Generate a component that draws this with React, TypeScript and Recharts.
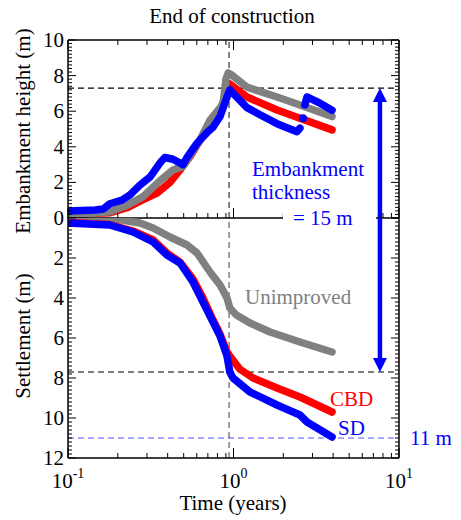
import React from "react";
import { ComposedChart, Line, XAxis, YAxis, ReferenceLine } from "recharts";

const W = 461;
const H = 520;
const FONT = "'Liberation Serif', Tinos, 'Times New Roman', 'DejaVu Serif', serif";

const RED = "#ff0000";
const BLUE = "#0000ff";
const GRAY = "#808080";

// [time (years), embankment height (m)]
const cbdHeight = [
  [0.1, 0.2], [0.18, 0.3], [0.23, 0.6], [0.28, 1.0], [0.345, 1.4], [0.413, 2.0],
  [0.475, 2.7], [0.55, 3.5], [0.63, 4.4], [0.72, 5.2], [0.83, 6.0], [0.9, 7.0],
  [0.94, 7.55], [1.206, 6.8], [1.832, 6.07], [2.52, 5.6], [3.94, 4.95],
];
const unimprovedHeight = [
  [0.1, 0.15], [0.179, 0.35], [0.227, 0.7], [0.284, 1.2], [0.36, 2.1], [0.431, 2.7],
  [0.495, 2.9], [0.628, 4.4], [0.721, 5.5], [0.865, 6.4], [0.9, 7.8], [0.93, 8.15],
  [0.97, 8.05], [1.206, 7.35], [1.832, 6.8], [2.52, 6.35], [3.94, 5.7],
];
const sdHeight = [
  [0.1, 0.4], [0.146, 0.45], [0.163, 0.5], [0.179, 0.8], [0.212, 1.0], [0.237, 1.3],
  [0.272, 1.85], [0.313, 2.3], [0.36, 3.1], [0.385, 3.4], [0.431, 3.3], [0.495, 3.0],
  [0.524, 3.4], [0.602, 4.2], [0.692, 4.8], [0.752, 5.1], [0.829, 5.7], [0.914, 6.8],
  [0.95, 7.2], [1.206, 6.2], [1.446, 5.8], [1.832, 5.3], [2.42, 4.85], [2.52, 5.05],
];
const sdHeightLate = [[2.7, 6.35], [2.78, 6.8], [3.33, 6.45], [3.94, 6.05]];
const sdHeightDot = [[2.63, 5.6]];

// [time (years), settlement (m)]
const unimprovedSettlement = [
  [0.1, 0], [0.179, 0], [0.272, 0.25], [0.327, 0.5], [0.413, 0.95], [0.524, 1.35],
  [0.602, 1.75], [0.721, 2.7], [0.829, 3.35], [0.914, 4.0], [0.95, 4.5], [1.04, 4.85],
  [1.258, 5.25], [1.662, 5.7], [2.52, 6.2], [3.94, 6.7],
];
const cbdSettlement = [
  [0.1, 0.22], [0.179, 0.33], [0.247, 0.65], [0.327, 1.1], [0.396, 1.75], [0.475, 2.2],
  [0.569, 3.05], [0.654, 4.0], [0.752, 5.1], [0.829, 5.8], [0.914, 6.7], [0.95, 6.9],
  [1.09, 7.55], [1.312, 8.0], [1.832, 8.5], [2.52, 8.95], [3.94, 9.7],
];
const sdSettlement = [
  [0.1, 0.25], [0.179, 0.35], [0.247, 0.7], [0.327, 1.2], [0.396, 1.85], [0.475, 2.25],
  [0.569, 3.2], [0.654, 4.2], [0.752, 5.2], [0.829, 5.9], [0.914, 6.9], [0.95, 7.7],
  [0.993, 8.0], [1.258, 8.7], [1.832, 9.35], [2.52, 9.85], [2.78, 10.2], [3.94, 10.95],
];

const timeTicks = [0.1, 0.2, 0.3, 0.4, 0.5, 0.6, 0.7, 0.8, 0.9, 1, 2, 3, 4, 5, 6, 7, 8, 9, 10];
const timeLabels = [0.1, 1, 10];
const endOfConstruction = 0.94;
const fillHeight = 7.3;
const fillSettlement = 7.7;
const sdFinal = 11;
const arrowTime = 7.67;

const depthTicks = (max: number) =>
  Array.from({ length: Math.round(max / 0.2) + 1 }, (_, i) => Math.round(i * 2) / 10);

const rows = (pairs: number[][]) => pairs.map(([t, v]) => ({ t, v }));

const TimeTick = (props: any) => {
  const { x, y, payload, dir, labelled } = props;
  const v = payload.value;
  const major = timeLabels.some((l) => Math.abs(l - v) < 1e-9);
  const len = major ? 10 : 5;
  return (
    <g>
      <line x1={x} x2={x} y1={y} y2={y + dir * len} stroke="#000" strokeWidth={1} />
      {labelled && major && (
        <text x={x} y={y + 30} textAnchor="middle" style={{ fontFamily: FONT }} fontSize={21} fill="#000">
          10
          <tspan dy={-10} fontSize={14}>
            {Math.round(Math.log10(v))}
          </tspan>
        </text>
      )}
    </g>
  );
};

const DepthTick = (props: any) => {
  const { x, y, payload, dir, labelled, skipZero } = props;
  const v = payload.value;
  const major = Math.abs(v / 2 - Math.round(v / 2)) < 1e-6;
  const len = major ? 8 : 4;
  return (
    <g>
      <line x1={x} x2={x + dir * len} y1={y} y2={y} stroke="#000" strokeWidth={1} />
      {labelled && major && !(skipZero && v === 0) && (
        <text x={x - 4} y={y + 7} textAnchor="end" style={{ fontFamily: FONT }} fontSize={21} fill="#000">
          {v}
        </text>
      )}
    </g>
  );
};

const arrowShape = (tipAtStart: boolean) => (props: any) => {
  const { x1, y1, y2 } = props;
  const tipY = tipAtStart ? y1 : y2;
  const tailY = tipAtStart ? y2 : y1;
  const s = Math.sign(tailY - tipY);
  const head = 13;
  const half = 7;
  return (
    <g>
      <line x1={x1} x2={x1} y1={tipY + s * head} y2={tailY} stroke={BLUE} strokeWidth={4.5} />
      <polygon
        points={`${x1},${tipY} ${x1 - half},${tipY + s * (head + 1)} ${x1 + half},${tipY + s * (head + 1)}`}
        fill={BLUE}
      />
    </g>
  );
};

const axisLine = { stroke: "#000", strokeWidth: 1.5 };

const timeAxis = (id: string, orientation: "top" | "bottom", dir: number, labelled = false) => (
  <XAxis
    xAxisId={id}
    orientation={orientation}
    dataKey="t"
    type="number"
    scale="log"
    domain={[0.1, 10]}
    allowDataOverflow
    ticks={timeTicks}
    interval={0}
    height={1}
    tickSize={0}
    tickMargin={0}
    tickLine={false}
    axisLine={axisLine}
    tick={<TimeTick dir={dir} labelled={labelled} />}
  />
);

const depthAxis = (id: string, right: boolean, max: number, reversed: boolean, labelled: boolean) => (
  <YAxis
    yAxisId={id}
    orientation={right ? "right" : "left"}
    type="number"
    reversed={reversed}
    domain={[0, max]}
    allowDataOverflow
    ticks={depthTicks(max)}
    interval={0}
    width={right ? 1 : 68}
    tickSize={0}
    tickMargin={0}
    tickLine={false}
    axisLine={axisLine}
    tick={<DepthTick dir={right ? -1 : 1} labelled={labelled} skipZero={reversed} />}
  />
);

const seriesLine = (key: string, data: number[][], color: string, x: string, y: string) => (
  <Line
    key={key}
    data={rows(data)}
    dataKey="v"
    xAxisId={x}
    yAxisId={y}
    type="linear"
    stroke={color}
    strokeWidth={7.5}
    strokeLinecap="round"
    strokeLinejoin="round"
    dot={false}
    activeDot={false}
    isAnimationActive={false}
  />
);

const HeightPanel = () => (
  <ComposedChart width={W} height={H} margin={{ top: 39, right: 61, bottom: H - 219, left: 0 }}>
    {timeAxis("top", "top", 1)}
    {timeAxis("b", "bottom", -1)}
    {depthAxis("h", false, 10, false, true)}
    {depthAxis("hr", true, 10, false, false)}
    <ReferenceLine xAxisId="b" yAxisId="h" y={fillHeight} stroke="#000" strokeWidth={1.2} strokeDasharray="6 4" />
    <ReferenceLine xAxisId="b" yAxisId="h" x={endOfConstruction} stroke="#333" strokeWidth={1.2} strokeDasharray="6 4" />
    {seriesLine("cbd", cbdHeight, RED, "b", "h")}
    {seriesLine("unimp", unimprovedHeight, GRAY, "b", "h")}
    {seriesLine("sd", sdHeight, BLUE, "b", "h")}
    {seriesLine("sdLate", sdHeightLate, BLUE, "b", "h")}
    <Line
      data={rows(sdHeightDot)}
      dataKey="v"
      xAxisId="b"
      yAxisId="h"
      stroke="none"
      dot={{ r: 4, fill: BLUE, stroke: "none" }}
      activeDot={false}
      isAnimationActive={false}
    />
    <ReferenceLine
      xAxisId="b"
      yAxisId="h"
      segment={[{ x: arrowTime, y: fillHeight }, { x: arrowTime, y: 0 }]}
      shape={arrowShape(true)}
    />
  </ComposedChart>
);

const SettlementPanel = () => (
  <ComposedChart width={W} height={H} margin={{ top: 218, right: 61, bottom: 61, left: 0 }}>
    {timeAxis("b", "bottom", -1, true)}
    {depthAxis("s", false, 12, true, true)}
    {depthAxis("sr", true, 12, true, false)}
    <ReferenceLine xAxisId="b" yAxisId="s" y={fillSettlement} stroke="#000" strokeWidth={1.2} strokeDasharray="6 4" />
    <ReferenceLine xAxisId="b" yAxisId="s" y={sdFinal} stroke="#5050ff" strokeWidth={1.2} strokeDasharray="6 4" />
    <ReferenceLine xAxisId="b" yAxisId="s" x={endOfConstruction} stroke="#444" strokeWidth={1} strokeDasharray="6 4" />
    {seriesLine("unimp", unimprovedSettlement, GRAY, "b", "s")}
    {seriesLine("cbd", cbdSettlement, RED, "b", "s")}
    {seriesLine("sd", sdSettlement, BLUE, "b", "s")}
    <ReferenceLine
      xAxisId="b"
      yAxisId="s"
      segment={[{ x: arrowTime, y: 0 }, { x: arrowTime, y: fillSettlement }]}
      shape={arrowShape(false)}
    />
  </ComposedChart>
);

const Annotations = () => (
  <svg width={W} height={H} style={{ position: "absolute", left: 0, top: 0, pointerEvents: "none" }}>
    <g style={{ fontFamily: FONT }}>
      <text x={232} y={23} textAnchor="middle" fontSize={21} fill="#000">
        End of construction
      </text>
      <text transform="translate(30,131) rotate(-90)" textAnchor="middle" fontSize={21} fill="#000">
        Embankment height (m)
      </text>
      <text transform="translate(30,336) rotate(-90)" textAnchor="middle" fontSize={21} fill="#000">
        Settlement (m)
      </text>
      <text x={233} y={510} textAnchor="middle" fontSize={21} fill="#000">
        Time (years)
      </text>
      <rect x={283} y={209} width={93} height={19} fill="#fff" />
      <text x={252} y={176} fontSize={21} fill={BLUE}>
        Embankment
      </text>
      <text x={252} y={199} fontSize={21} fill={BLUE}>
        thickness
      </text>
      <text x={293} y={225} fontSize={21} fill={BLUE}>
        = 15 m
      </text>
      <text x={245} y={304} fontSize={21} fill={GRAY}>
        Unimproved
      </text>
      <text x={330} y={406} fontSize={21} fill={RED}>
        CBD
      </text>
      <text x={338} y={435} fontSize={21} fill={BLUE}>
        SD
      </text>
      <text x={410} y={445} fontSize={21} fill={BLUE}>
        11 m
      </text>
    </g>
  </svg>
);

export default function App() {
  return (
    <div style={{ position: "absolute", left: 0, top: 0, width: W, height: H, background: "#fff" }}>
      <div style={{ position: "absolute", left: 0, top: 0 }}>
        <HeightPanel />
      </div>
      <div style={{ position: "absolute", left: 0, top: 0 }}>
        <SettlementPanel />
      </div>
      <Annotations />
    </div>
  );
}
